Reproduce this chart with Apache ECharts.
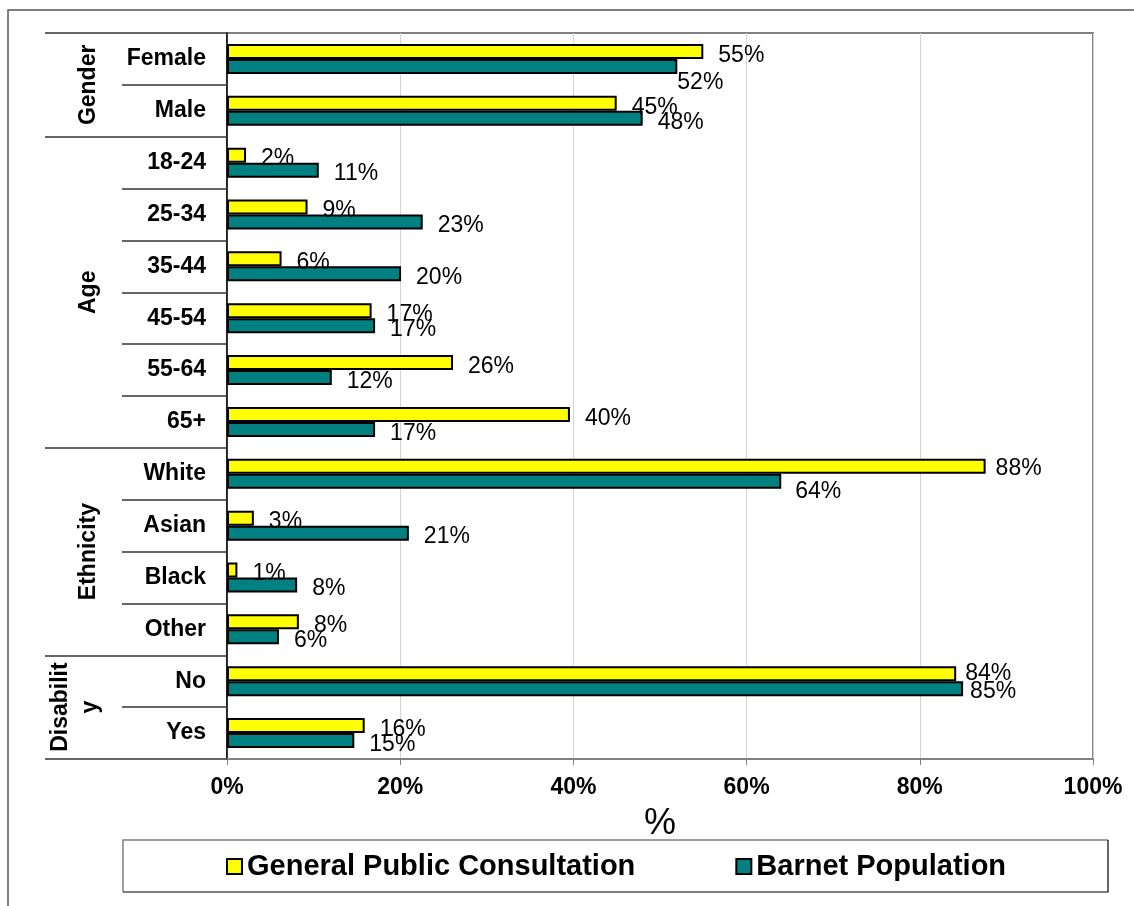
<!DOCTYPE html>
<html>
<head>
<meta charset="utf-8">
<script src="https://cdn.jsdelivr.net/npm/echarts@6/dist/echarts.min.js"></script>
<style>
html,body{margin:0;padding:0;background:#fff;}
#chart{width:1134px;height:906px;}
</style>
</head>
<body>
<div id="chart"></div>
<script>
// ---- data ----
const categories = ['Female','Male','18-24','25-34','35-44','45-54','55-64','65+','White','Asian','Black','Other','No','Yes'];
const groupNames = ['Gender','Age','Ethnicity','Disabilit\ny'];
const groupSizes = [2, 6, 4, 2];
const consultation = [55.0, 45.0, 2.2, 9.3, 6.3, 16.7, 26.1, 39.6, 87.6, 3.1, 1.2, 8.3, 84.2, 15.9];
const barnet = [52.0, 48.0, 10.6, 22.6, 20.1, 17.1, 12.1, 17.1, 64.0, 21.0, 8.1, 6.0, 85.0, 14.7];
const xTicks = [0, 20, 40, 60, 80, 100];
const seriesNames = ['General Public Consultation', 'Barnet Population'];

// label nudges (style only)
const nudgeYellow = {8: [-5, -2], 12: [-6, -4]};
const nudgeTeal = {0: [-15, 12], 8: [-1, 6], 12: [-8, -1]};

const FONT = 'Arial, "Liberation Sans", sans-serif';
const chart = echarts.init(document.getElementById('chart'));

function makeData(vals, nudges, baseOffset) {
  return vals.map((v, i) => {
    const n = nudges[i];
    if (!n) return v;
    return {value: v, label: {offset: [baseOffset[0] + n[0], baseOffset[1] + n[1]]}};
  });
}

const groupStarts = [];
{
  let acc = 0;
  groupSizes.forEach(s => { groupStarts.push(acc); acc += s; });
  groupStarts.push(acc);
}

const labelCommon = {
  show: true, position: 'right', distance: 15,
  color: '#000', fontFamily: FONT, fontSize: 23, fontWeight: 'normal',
  formatter: p => Math.round(p.value) + '%'
};

const option = {
  animation: false,
  backgroundColor: '#fff',
  grid: {left: 227, right: 41, top: 33, bottom: 147, show: true, borderColor: '#808080', borderWidth: 2, backgroundColor: '#fff'},
  xAxis: {
    type: 'value', min: xTicks[0], max: xTicks[xTicks.length - 1], interval: 20,
    axisLine: {show: true, lineStyle: {color: '#808080', width: 2}},
    axisTick: {show: true, length: 6, lineStyle: {color: '#808080', width: 1}},
    axisLabel: {formatter: '{value}%', color: '#000', fontFamily: FONT, fontSize: 23, fontWeight: 'bold', margin: 17},
    splitLine: {show: true, lineStyle: {color: '#d4d4d4', width: 1}},
    name: '%', nameLocation: 'middle', nameGap: 47,
    nameTextStyle: {color: '#000', fontFamily: FONT, fontSize: 36, fontWeight: 'normal'}
  },
  yAxis: [
    {
      type: 'category', data: categories, inverse: true,
      axisLine: {show: true, lineStyle: {color: '#000', width: 1.5}},
      axisTick: {show: true, length: 105, interval: 0, lineStyle: {color: '#333', width: 1.5}},
      axisLabel: {color: '#000', fontFamily: FONT, fontSize: 23, fontWeight: 'bold', margin: 21},
      splitLine: {show: false}
    },
    {
      type: 'category', data: categories, inverse: true, position: 'left', offset: 0,
      axisLine: {show: false},
      axisTick: {show: true, length: 182, interval: (idx) => groupStarts.indexOf(idx) >= 0, lineStyle: {color: '#333', width: 1.5}},
      axisLabel: {show: false},
      splitLine: {show: false}
    }
  ],
  legend: {
    left: 226, top: 852, padding: 0, itemGap: 100, itemWidth: 15, itemHeight: 15,
    icon: 'rect',
    textStyle: {color: '#000', fontFamily: FONT, fontSize: 29, fontWeight: 'bold'},
    data: seriesNames
  },
  series: [
    {
      name: seriesNames[0], type: 'bar', yAxisIndex: 0, barWidth: 15, barGap: '0%',
      itemStyle: {color: '#ffff00', borderColor: '#000', borderWidth: 2},
      label: Object.assign({}, labelCommon, {offset: [0, 4]}),
      data: makeData(consultation, nudgeYellow, [0, 4])
    },
    {
      name: seriesNames[1], type: 'bar', yAxisIndex: 0, barWidth: 15, barGap: '0%',
      itemStyle: {color: '#008080', borderColor: '#000', borderWidth: 2},
      label: Object.assign({}, labelCommon, {offset: [0, 4]}),
      data: makeData(barnet, nudgeTeal, [0, 4])
    }
  ]
};
chart.setOption(option);

// decorations: outer frame, legend box, rotated group labels
const graphics = [
  {type: 'rect', z: -10, silent: true, shape: {x: 8, y: 10, width: 1200, height: 1000}, style: {fill: null, stroke: '#555', lineWidth: 1.5}},
  {type: 'polyline', z: 10, silent: true, shape: {points: [[123, 892], [123, 840], [1108, 840]]}, style: {fill: null, stroke: '#808080', lineWidth: 1.5}},
  {type: 'polyline', z: 10, silent: true, shape: {points: [[123, 892], [1108, 892], [1108, 840]]}, style: {fill: null, stroke: '#000', lineWidth: 1.2}}
];
groupNames.forEach((g, gi) => {
  const s = groupStarts[gi], e = groupStarts[gi + 1] - 1;
  const y = (chart.convertToPixel({yAxisIndex: 0}, categories[s]) + chart.convertToPixel({yAxisIndex: 0}, categories[e])) / 2;
  const twoLine = g.indexOf('\n') >= 0;
  graphics.push({
    type: 'text', silent: true, z: 10,
    x: twoLine ? 76 : 89, y: y, rotation: Math.PI / 2,
    style: {
      text: g, fill: '#000', fontFamily: FONT, fontSize: 23, fontWeight: 'bold',
      align: 'center', verticalAlign: 'middle', textAlign: 'center', textVerticalAlign: 'middle', lineHeight: 30
    }
  });
});
chart.setOption({graphic: graphics});
</script>
</body>
</html>
